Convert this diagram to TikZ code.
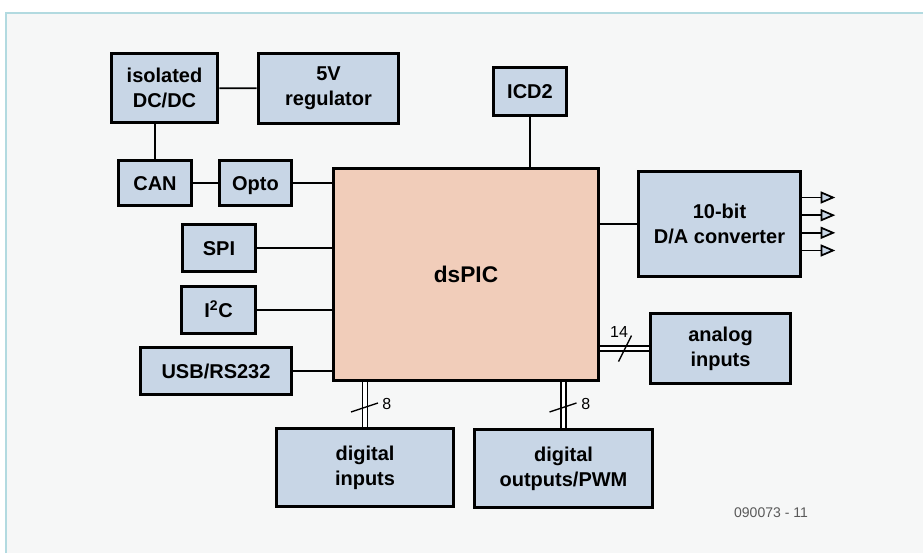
\documentclass[tikz,border=0pt]{standalone}
\usepackage{fontspec}
\setmainfont{Liberation Sans}
\usetikzlibrary{arrows.meta}
\usetikzlibrary{shadows}

\definecolor{boxblue}{RGB}{200,214,230}
\definecolor{picpeach}{RGB}{241,205,186}
\definecolor{framecyan}{RGB}{178,218,224}
\definecolor{paper}{RGB}{246,247,247}

\tikzset{
  blk/.style={draw=black, line width=2.7pt, fill=boxblue, align=center, inner sep=0pt,
    font=\bfseries\fontsize{15}{19}\selectfont,
    drop shadow={shadow xshift=1.2pt, shadow yshift=-1.2pt, fill=black, opacity=0.3}},
  oneline/.style={text height=10.7pt, text depth=0pt},
  sz/.style 2 args={minimum width=#1*0.75pt, minimum height=#2*0.75pt},
  wire/.style={line width=1.3pt},
  bus/.style={double, double distance=2.6pt, line width=1.2pt},
  buslabel/.style={inner sep=0.75pt, font=\fontsize{12}{14}\selectfont},
  outtip/.style={line width=1.3pt, -{Triangle[length=11pt, width=9pt, fill=boxblue]}}
}

\begin{document}
\begin{tikzpicture}[x=0.75pt,y=0.75pt,yscale=-1]
\useasboundingbox (0,0) rectangle (923,553);

%Frame
\fill [white] (0,0) rectangle (923,553);
\fill [paper] (6,13) rectangle (923,553);
\draw [framecyan, line width=1.2pt] (6,553) -- (6,13) -- (923,13);

%Blocks
\node [blk, sz={106}{69}] (dcdc) at (164.5,88) {isolated\\DC/DC};
\node [blk, sz={140}{70}] (reg) at (328.5,88.5) {5V\\regulator};
\node [blk, oneline, sz={73}{45}] (can) at (155,183) {CAN};
\node [blk, oneline, sz={72}{45}] (opto) at (255.5,183) {Opto};
\node [blk, oneline, sz={73}{47}] (spi) at (219,248) {SPI};
\node [blk, oneline, sz={74}{47}] (iic) at (218.5,310) {I\textsuperscript{2}C};
\node [blk, oneline, sz={151}{47}] (usb) at (216,371) {USB/RS232};
\node [blk, fill=picpeach, sz={265}{212}, font=\bfseries\fontsize{17}{20}\selectfont] (dspic) at (466,274.5) {dsPIC};
\node [blk, oneline, sz={73}{48}] (icd) at (530,91.5) {ICD2};
\node [blk, sz={162}{105}] (dac) at (719.5,224) {10-bit\\D/A converter};
\node [blk, sz={140}{70}] (ana) at (720.5,348.5) {analog\\inputs};
\node [blk, sz={177}{78}] (din) at (365,467.5) {digital\\inputs};
\node [blk, sz={178}{78}] (dout) at (563.5,468.5) {digital\\outputs/PWM};

%Wires
\draw [wire] (dcdc) -- (reg);
\draw [wire] (can.north) -- (can.north |- dcdc.south);
\draw [wire] (can) -- (opto);
\draw [wire] (opto.east) -- (opto.east -| dspic.west);
\draw [wire] (spi.east) -- (spi.east -| dspic.west);
\draw [wire] (iic.east) -- (iic.east -| dspic.west);
\draw [wire] (usb.east) -- (usb.east -| dspic.west);
\draw [wire] (icd.south) -- (icd.south |- dspic.north);
\draw [wire] (dspic.east |- dac.west) -- (dac.west);

%Buses
\draw [bus] (dspic.south -| din.north) -- (din.north);
\draw [bus] (dspic.south -| dout.north) -- (dout.north);
\draw [bus] (dspic.east |- ana.west) -- (ana.west);

\coordinate (bdin) at (365,407);
\coordinate (bdout) at (563.5,407);
\coordinate (bana) at (624.5,348.5);
\draw [wire, line width=1pt] (bdin) +(-14,5) -- +(13,-4);
\draw [wire, line width=1pt] (bdout) +(-14,5) -- +(13,-4);
\draw [wire, line width=1pt] (bana) +(-6,13) -- +(7,-13);

% Text Node
\node [buslabel, anchor=west] (ldin) at (381,403.5) {8};
% Text Node
\node [buslabel, anchor=west] (ldout) at (580,403.5) {8};
% Text Node
\node [buslabel] (lana) at (619,332) {14};

%Outputs
\foreach \dy in {-26.5,-8.8,8.8,26.5}
  \draw [outtip] ([yshift=-\dy*0.75pt]dac.east) -- ++(33,0);

% Text Node
\node [inner sep=0.75pt, text=black!65, font=\fontsize{10.5}{12}\selectfont] (code) at (771,513) {090073 - 11};

\end{tikzpicture}
\end{document}
